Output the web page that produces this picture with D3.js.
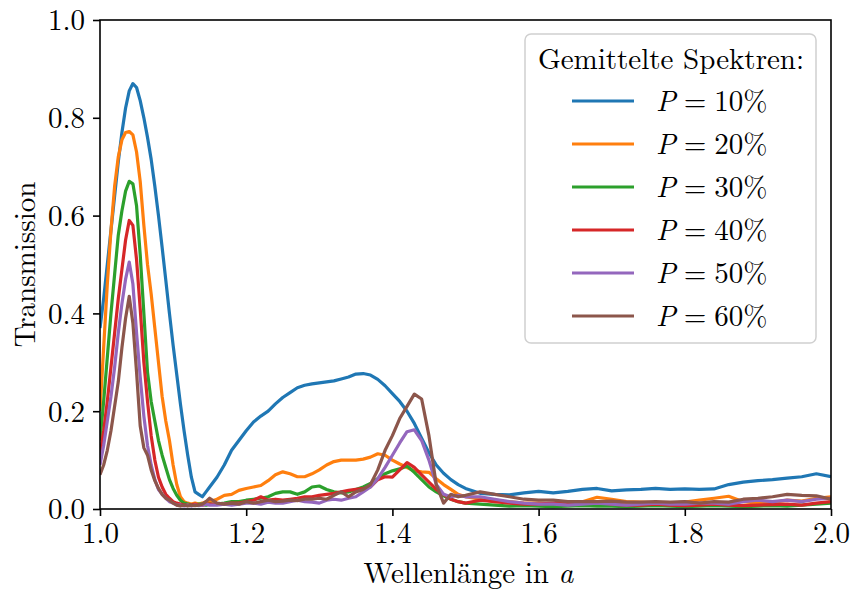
<!DOCTYPE html>
<html>
<head>
<meta charset="utf-8">
<script src="https://cdn.jsdelivr.net/npm/d3@7"></script>
<style>
  html, body { margin: 0; padding: 0; background: #fff; }
  svg { display: block; }
</style>
</head>
<body>
<svg id="chart" width="851" height="590"></svg>
<script>
// Wavelength samples (in units of a)
const wavelength = [
  1.000, 1.005, 1.010, 1.015, 1.020, 1.025, 1.030, 1.035, 1.040, 1.045,
  1.050, 1.055, 1.060, 1.065, 1.070, 1.075, 1.080, 1.085, 1.090, 1.095,
  1.100, 1.105, 1.110, 1.115, 1.120, 1.125, 1.130, 1.135, 1.140, 1.145, 1.150,
  1.16, 1.17, 1.18, 1.19, 1.20, 1.21, 1.22, 1.23, 1.24, 1.25,
  1.26, 1.27, 1.28, 1.29, 1.30, 1.31, 1.32, 1.33, 1.34, 1.35,
  1.36, 1.37, 1.38, 1.39, 1.40, 1.41, 1.42, 1.43, 1.44, 1.45,
  1.46, 1.47, 1.48, 1.49, 1.50,
  1.52, 1.54, 1.56, 1.58, 1.60, 1.62, 1.64, 1.66, 1.68, 1.70,
  1.72, 1.74, 1.76, 1.78, 1.80, 1.82, 1.84, 1.86, 1.88, 1.90,
  1.92, 1.94, 1.96, 1.98, 2.00
];

// Averaged transmission spectra for each fill fraction P
const p10 = [
  0.37, 0.43, 0.50, 0.57, 0.64, 0.71, 0.77, 0.82, 0.855, 0.87,
  0.862, 0.835, 0.80, 0.76, 0.715, 0.66, 0.60, 0.535, 0.468, 0.40,
  0.335, 0.275, 0.215, 0.16, 0.11, 0.065, 0.035, 0.03, 0.025, 0.035, 0.045,
  0.065, 0.09, 0.12, 0.14, 0.16, 0.178, 0.19, 0.20, 0.215, 0.228,
  0.238, 0.248, 0.253, 0.256, 0.258, 0.260, 0.262, 0.266, 0.27, 0.276,
  0.277, 0.274, 0.265, 0.252, 0.236, 0.22, 0.20, 0.175, 0.145, 0.115,
  0.09, 0.073, 0.06, 0.05, 0.042,
  0.032, 0.03, 0.029, 0.033, 0.036, 0.033, 0.036, 0.04, 0.042, 0.037,
  0.039, 0.04, 0.042, 0.04, 0.041, 0.04, 0.041, 0.05, 0.055, 0.058,
  0.06, 0.063, 0.066, 0.072, 0.066
];
const p20 = [
  0.20, 0.33, 0.46, 0.57, 0.66, 0.72, 0.755, 0.77, 0.772, 0.765,
  0.73, 0.67, 0.58, 0.50, 0.44, 0.37, 0.30, 0.23, 0.18, 0.14,
  0.09, 0.05, 0.025, 0.015, 0.012, 0.01, 0.012, 0.01, 0.012, 0.015, 0.015,
  0.02, 0.028, 0.03, 0.038, 0.042, 0.045, 0.048, 0.058, 0.07, 0.076,
  0.072, 0.066, 0.066, 0.072, 0.08, 0.09, 0.097, 0.10, 0.10, 0.10,
  0.102, 0.106, 0.113, 0.11, 0.10, 0.092, 0.085, 0.078, 0.076, 0.075,
  0.062, 0.05, 0.04, 0.03, 0.025,
  0.02, 0.015, 0.015, 0.012, 0.012, 0.01, 0.012, 0.015, 0.024, 0.02,
  0.015, 0.014, 0.013, 0.012, 0.014, 0.018, 0.022, 0.026, 0.015, 0.012,
  0.013, 0.018, 0.016, 0.022, 0.025
];
const p30 = [
  0.14, 0.22, 0.31, 0.40, 0.48, 0.56, 0.61, 0.65, 0.67, 0.665,
  0.62, 0.52, 0.40, 0.28, 0.22, 0.18, 0.14, 0.11, 0.085, 0.06,
  0.042, 0.028, 0.018, 0.012, 0.01, 0.008, 0.008, 0.01, 0.01, 0.008, 0.01,
  0.01, 0.012, 0.015, 0.015, 0.018, 0.02, 0.022, 0.025, 0.032, 0.035,
  0.035, 0.03, 0.035, 0.045, 0.047, 0.04, 0.035, 0.033, 0.035, 0.04,
  0.045, 0.052, 0.062, 0.072, 0.078, 0.082, 0.088, 0.075, 0.06, 0.045,
  0.035, 0.027, 0.02, 0.015, 0.012,
  0.01, 0.008, 0.006, 0.007, 0.006, 0.005, 0.006, 0.007, 0.006, 0.006,
  0.005, 0.006, 0.007, 0.006, 0.005, 0.006, 0.007, 0.006, 0.005, 0.006,
  0.007, 0.006, 0.008, 0.01, 0.012
];
const p40 = [
  0.11, 0.16, 0.22, 0.29, 0.36, 0.43, 0.49, 0.55, 0.59, 0.58,
  0.51, 0.41, 0.30, 0.22, 0.15, 0.10, 0.065, 0.045, 0.03, 0.022,
  0.015, 0.012, 0.01, 0.008, 0.008, 0.008, 0.01, 0.008, 0.008, 0.01, 0.01,
  0.01, 0.01, 0.012, 0.012, 0.015, 0.018, 0.025, 0.018, 0.02, 0.018,
  0.02, 0.022, 0.025, 0.025, 0.028, 0.03, 0.032, 0.035, 0.038, 0.04,
  0.042, 0.045, 0.06, 0.066, 0.065, 0.08, 0.095, 0.085, 0.07, 0.055,
  0.04, 0.03, 0.02, 0.015, 0.012,
  0.018, 0.015, 0.012, 0.01, 0.01, 0.012, 0.01, 0.012, 0.015, 0.01,
  0.008, 0.008, 0.01, 0.008, 0.007, 0.008, 0.01, 0.008, 0.007, 0.008,
  0.009, 0.01, 0.008, 0.012, 0.015
];
const p50 = [
  0.09, 0.13, 0.18, 0.23, 0.29, 0.36, 0.42, 0.47, 0.505, 0.46,
  0.36, 0.27, 0.19, 0.13, 0.09, 0.06, 0.04, 0.03, 0.022, 0.015,
  0.012, 0.008, 0.008, 0.006, 0.008, 0.006, 0.008, 0.007, 0.008, 0.01, 0.008,
  0.008, 0.01, 0.008, 0.01, 0.012, 0.012, 0.01, 0.014, 0.012, 0.012,
  0.015, 0.018, 0.015, 0.014, 0.012, 0.018, 0.02, 0.018, 0.022, 0.025,
  0.035, 0.045, 0.062, 0.085, 0.11, 0.135, 0.158, 0.162, 0.14, 0.10,
  0.05, 0.03, 0.025, 0.028, 0.025,
  0.025, 0.02, 0.015, 0.012, 0.01, 0.01, 0.008, 0.01, 0.012, 0.01,
  0.008, 0.01, 0.012, 0.01, 0.01, 0.012, 0.012, 0.01, 0.015, 0.018,
  0.015, 0.018, 0.015, 0.02, 0.022
];
const p60 = [
  0.07, 0.09, 0.12, 0.16, 0.21, 0.26, 0.33, 0.39, 0.435, 0.38,
  0.28, 0.17, 0.125, 0.11, 0.08, 0.058, 0.042, 0.03, 0.022, 0.018,
  0.012, 0.008, 0.006, 0.008, 0.006, 0.008, 0.007, 0.008, 0.01, 0.015, 0.022,
  0.012, 0.01, 0.012, 0.01, 0.015, 0.012, 0.015, 0.018, 0.015, 0.016,
  0.018, 0.017, 0.02, 0.02, 0.022, 0.02, 0.028, 0.035, 0.025, 0.035,
  0.04, 0.05, 0.08, 0.12, 0.15, 0.185, 0.21, 0.235, 0.225, 0.15,
  0.05, 0.012, 0.03, 0.025, 0.028,
  0.035, 0.03, 0.025, 0.02, 0.018, 0.018, 0.015, 0.015, 0.015, 0.016,
  0.014, 0.014, 0.015, 0.014, 0.015, 0.012, 0.015, 0.014, 0.02, 0.022,
  0.025, 0.03, 0.028, 0.027, 0.02
];

const seriesLabels = ["10%", "20%", "30%", "40%", "50%", "60%"];
const seriesValues = [p10, p20, p30, p40, p50, p60];
const seriesColors = ["#1f77b4", "#ff7f0e", "#2ca02c", "#d62728", "#9467bd", "#8c564b"];

const xTicks = [1.0, 1.2, 1.4, 1.6, 1.8, 2.0];
const yTicks = [0.0, 0.2, 0.4, 0.6, 0.8, 1.0];

// Pick the first serif face that is actually installed
function pickFont(candidates, fallback) {
  const ctx = document.createElement("canvas").getContext("2d");
  const sample = "Wellenlänge Transmission 0.123456789";
  const widthWith = f => { ctx.font = `40px ${f}`; return ctx.measureText(sample).width; };
  const bases = ["monospace", "sans-serif"].map(widthWith);
  for (const c of candidates) {
    const ok = ["monospace", "sans-serif"].some((b, i) => widthWith(`"${c}", ${b}`) !== bases[i]);
    if (ok) return `"${c}", ${fallback}`;
  }
  return fallback;
}
const FONT = pickFont(
  ["CMU Serif", "Latin Modern Roman", "Liberation Serif", "Times New Roman", "Tinos",
   "Nimbus Roman", "TeX Gyre Termes", "FreeSerif", "Noto Serif", "DejaVu Serif"],
  "serif");
const FONT_SIZE = "29px";

const svg = d3.select("#chart");
const plot = { left: 100, right: 831, top: 20, bottom: 509 };

const x = d3.scaleLinear().domain([1.0, 2.0]).range([plot.left, plot.right]);
const y = d3.scaleLinear().domain([0.0, 1.0]).range([plot.bottom, plot.top]);

svg.append("defs").append("clipPath").attr("id", "plot-clip")
  .append("rect")
  .attr("x", plot.left).attr("y", plot.top)
  .attr("width", plot.right - plot.left).attr("height", plot.bottom - plot.top);

// Spectra
const line = d3.line()
  .x((d, i) => x(wavelength[i]))
  .y(d => y(d))
  .curve(d3.curveLinear);

const lines = svg.append("g").attr("clip-path", "url(#plot-clip)");
seriesValues.forEach((vals, k) => {
  lines.append("path")
    .datum(vals)
    .attr("fill", "none")
    .attr("stroke", seriesColors[k])
    .attr("stroke-width", 3.2)
    .attr("stroke-linejoin", "round")
    .attr("d", line);
});

// Axes
const fmt = d3.format(".1f");
const xAxis = svg.append("g")
  .attr("transform", `translate(0,${plot.bottom})`)
  .call(d3.axisBottom(x).tickValues(xTicks).tickFormat(fmt).tickSizeOuter(0).tickSize(7).tickPadding(6));
const yAxis = svg.append("g")
  .attr("transform", `translate(${plot.left},0)`)
  .call(d3.axisLeft(y).tickValues(yTicks).tickFormat(fmt).tickSizeOuter(0).tickSize(7).tickPadding(8));

[xAxis, yAxis].forEach(ax => {
  ax.attr("font-family", null).attr("font-size", null);
  ax.select(".domain").remove();
  ax.selectAll(".tick line").attr("stroke", "#000").attr("stroke-width", 1.6);
  ax.selectAll(".tick text")
    .style("font-family", FONT)
    .style("font-size", FONT_SIZE)
    .attr("fill", "#000");
});
xAxis.selectAll(".tick text").attr("dy", "0.72em");
yAxis.selectAll(".tick text").attr("dy", "0.34em");

// Frame
svg.append("rect")
  .attr("x", plot.left).attr("y", plot.top)
  .attr("width", plot.right - plot.left).attr("height", plot.bottom - plot.top)
  .attr("fill", "none").attr("stroke", "#000").attr("stroke-width", 1.6);

// Axis titles
const xTitle = svg.append("text")
  .attr("x", (plot.left + plot.right) / 2 + 3)
  .attr("y", 583)
  .attr("text-anchor", "middle")
  .style("font-family", FONT)
  .style("font-size", FONT_SIZE);
xTitle.append("tspan").text("Wellenlänge in ");
xTitle.append("tspan").attr("font-style", "italic").text("a");

svg.append("text")
  .attr("transform", `translate(35,${(plot.top + plot.bottom) / 2}) rotate(-90)`)
  .attr("text-anchor", "middle")
  .style("font-family", FONT)
  .style("font-size", FONT_SIZE)
  .text("Transmission");

// Legend
const legend = svg.append("g");
legend.append("rect")
  .attr("x", 525).attr("y", 34).attr("width", 291).attr("height", 309)
  .attr("rx", 6).attr("ry", 6)
  .attr("fill", "#fff").attr("fill-opacity", 0.8)
  .attr("stroke", "#d0d0d0").attr("stroke-width", 1.5);

legend.append("text")
  .attr("x", 671).attr("y", 69)
  .attr("text-anchor", "middle")
  .style("font-family", FONT)
  .style("font-size", FONT_SIZE)
  .text("Gemittelte Spektren:");

seriesLabels.forEach((lab, k) => {
  const cy = 101 + k * 43;
  legend.append("line")
    .attr("x1", 572).attr("x2", 634)
    .attr("y1", cy).attr("y2", cy)
    .attr("stroke", seriesColors[k]).attr("stroke-width", 3.2);
  const t = legend.append("text")
    .attr("x", 656).attr("y", cy + 10)
    .style("font-family", FONT)
    .style("font-size", FONT_SIZE);
  t.append("tspan").attr("font-style", "italic").text("P");
  t.append("tspan").attr("dx", 8).text("=");
  t.append("tspan").attr("dx", 8).text(lab);
});
</script>
</body>
</html>
